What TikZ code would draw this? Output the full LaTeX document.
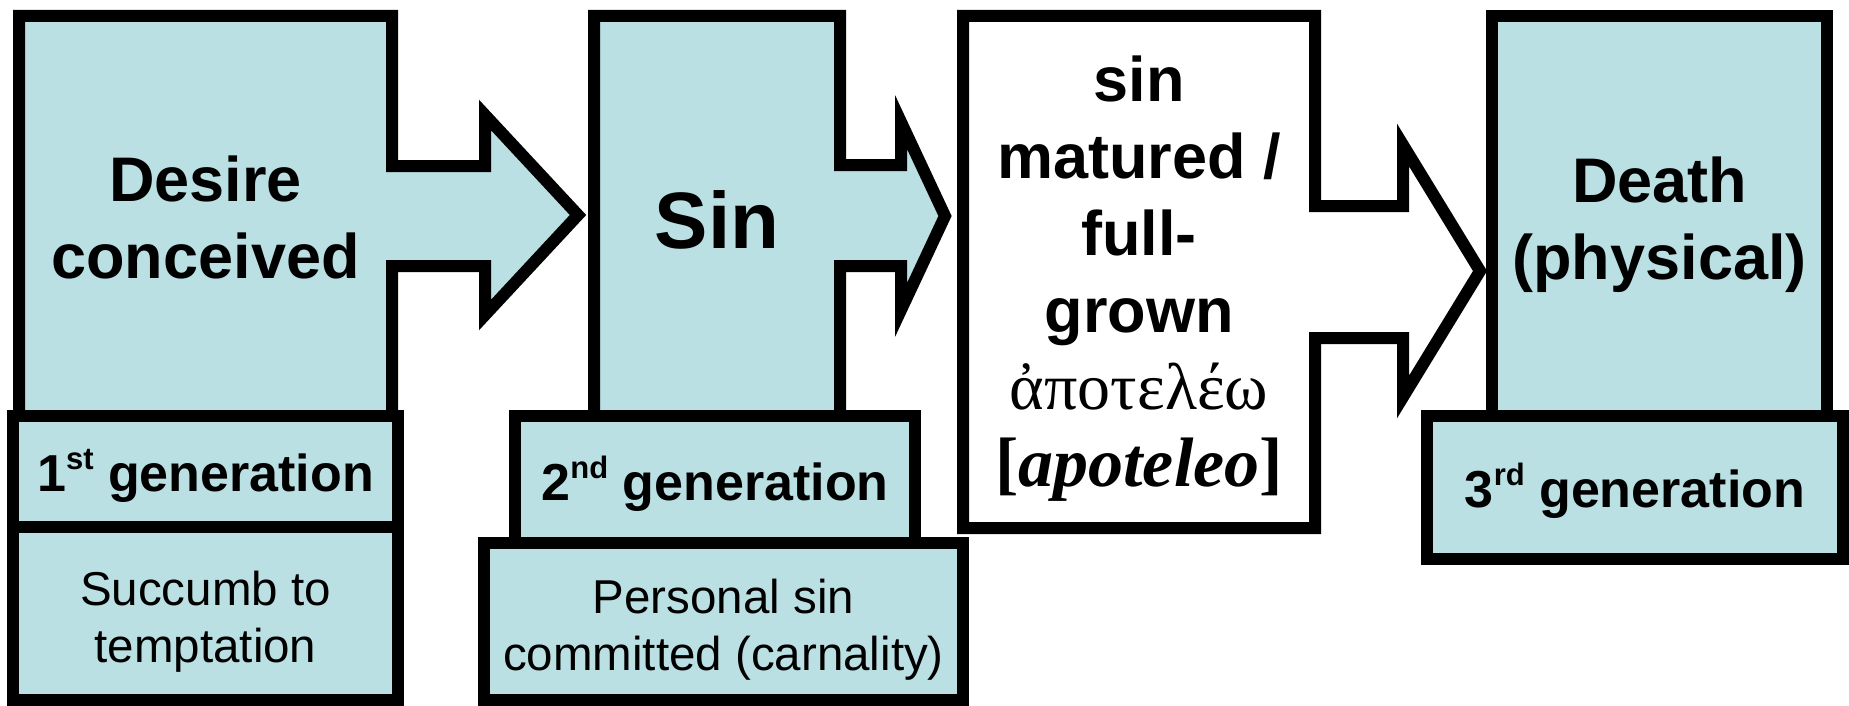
\documentclass[tikz,border=0pt]{standalone}
\usepackage{fontspec}
\setmainfont{Liberation Sans}
\newfontfamily\grk{Liberation Serif}
\definecolor{paleblue}{RGB}{186,224,227}
\newcommand\ordsup[1]{\raisebox{0.42em}{\fontsize{31}{31}\selectfont #1}}
\tikzset{
  outline/.style={draw=black, line width=12pt, line join=miter, miter limit=10},
  bluefill/.style={outline, fill=paleblue},
  whitefill/.style={outline, fill=white},
  bigtxt/.style={font=\fontsize{63}{77}\selectfont\bfseries, align=center, inner sep=0pt},
  gentxt/.style={font=\fontsize{52}{62}\selectfont\bfseries, inner sep=0pt},
  smalltxt/.style={font=\fontsize{47.5}{57}\selectfont, align=center, inner sep=0pt},
}
\begin{document}
\begin{tikzpicture}[x=1pt,y=-1pt]
\useasboundingbox (0,0) rectangle (1849,706);

% stage 1: desire, with its arrow
\draw[bluefill] (19,416) -- (19,16) -- (392,16) -- (392,166) -- (485,166) -- (485,115)
  -- (578,215) -- (485,315) -- (485,266) -- (392,266) -- (392,416) -- cycle;
% stage 2: sin, with its arrow
\draw[bluefill] (594,416) -- (594,16) -- (840,16) -- (840,165) -- (901,165) -- (901,122)
  -- (945,216) -- (901,310) -- (901,266) -- (840,266) -- (840,416) -- cycle;
% stage 3: sin full-grown, with its arrow
\draw[whitefill] (963,528) -- (963,16) -- (1315,16) -- (1315,206) -- (1403,206) -- (1403,145)
  -- (1480,271) -- (1403,397) -- (1403,338) -- (1315,338) -- (1315,528) -- cycle;
% stage 4: death
\draw[bluefill] (1492,16) rectangle (1827,416);

% generation boxes
\draw[bluefill] (13.4,416) rectangle (397.5,527);
\draw[bluefill] (515,416) rectangle (915,543);
\draw[bluefill] (1427,416) rectangle (1843,559);

% description boxes
\draw[bluefill] (13.4,527) rectangle (397.5,700);
\draw[bluefill] (484,543) rectangle (963,700);

% labels
\node[bigtxt] (desire) at (205.5,217) {Desire\\conceived};
\node[bigtxt, font=\fontsize{80}{96}\selectfont\bfseries] (sin) at (717,220) {Sin};
\node[bigtxt] (mature) at (1139,279) {sin\\matured /\\full-\\grown\\{\grk\mdseries\fontsize{66}{77}\selectfont ἀποτελέω}\\{\grk\fontsize{70}{77}\selectfont [\textit{apoteleo}]}};
\node[bigtxt] (death) at (1659.5,225) {Death\\(physical)};

\node[gentxt] (gen1) at (205.5,476) {1\ordsup{st} generation};
\node[gentxt] (gen2) at (715,484) {2\ordsup{nd} generation};
\node[gentxt] (gen3) at (1635,491) {3\ordsup{rd} generation};

\node[smalltxt] (succumb) at (205.5,622) {Succumb to\\temptation};
\node[smalltxt] (personal) at (723.5,630) {Personal sin\\committed (carnality)};
\end{tikzpicture}
\end{document}
